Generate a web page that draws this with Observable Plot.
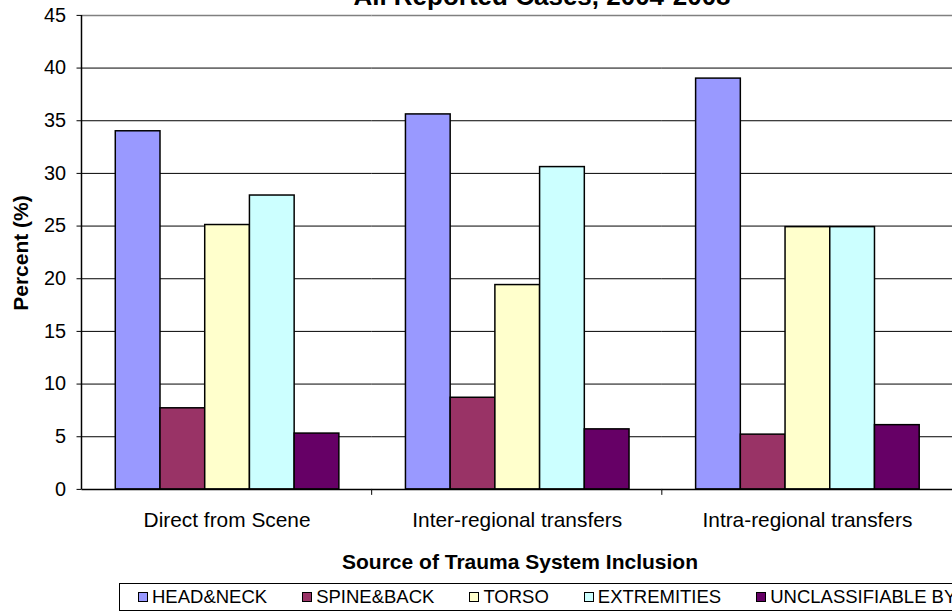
<!DOCTYPE html>
<html><head><meta charset="utf-8">
<script src="https://cdn.jsdelivr.net/npm/d3@7"></script>
<script src="https://cdn.jsdelivr.net/npm/@observablehq/plot@0.6"></script>
<style>
html,body{margin:0;padding:0;background:#fff;overflow:hidden;}
#wrap{position:relative;width:952px;height:614px;overflow:hidden;font-family:"Liberation Sans",Arial,sans-serif;color:#000;}
#chart{position:absolute;left:0;top:0;}
#title{position:absolute;left:0;width:1084px;top:-17px;text-align:center;font-weight:bold;font-size:26px;line-height:26px;white-space:nowrap;}
#ytitle{position:absolute;left:20px;top:253px;transform:translate(-50%,-50%) rotate(-90deg);font-weight:bold;font-size:21px;line-height:21px;white-space:nowrap;}
#xtitle{position:absolute;left:82px;width:876px;top:551px;text-align:center;font-weight:bold;font-size:21px;line-height:21px;white-space:nowrap;}
#legend{position:absolute;left:119px;top:583px;height:28px;width:900px;border:1px solid #000;border-right:none;display:flex;align-items:center;padding-left:18px;box-sizing:border-box;font-size:18.5px;white-space:nowrap;}
#legend .item{display:flex;align-items:center;margin-right:35px;}
#legend .sw{width:8px;height:8px;border:1.5px solid #000;margin-right:4px;}
</style>
</head><body>
<div id="wrap">
  <div id="chart"></div>
  <div id="title"></div>
  <div id="ytitle"></div>
  <div id="xtitle"></div>
  <div id="legend"></div>
</div>
<script>
const titleText = "All Reported Cases, 2004-2008";
const yTitle = "Percent (%)";
const xTitle = "Source of Trauma System Inclusion";
const categories = ["Direct from Scene", "Inter-regional transfers", "Intra-regional transfers"];
const seriesNames = ["HEAD&NECK", "SPINE&BACK", "TORSO", "EXTREMITIES", "UNCLASSIFIABLE BY"];
const colors = ["#9999FF", "#993366", "#FFFFCC", "#CCFFFF", "#660066"];
const headNeck = [34.0, 35.6, 39.0];
const spineBack = [7.7, 8.7, 5.2];
const torso = [25.1, 19.4, 24.9];
const extremities = [27.9, 30.6, 24.9];
const unclassifiable = [5.3, 5.7, 6.1];
const yTicks = [0, 5, 10, 15, 20, 25, 30, 35, 40, 45];

const seriesValues = [headNeck, spineBack, torso, extremities, unclassifiable];
const rows = [];
categories.forEach((cat, i) => {
  seriesNames.forEach((s, j) => rows.push({cat, series: s, value: seriesValues[j][i]}));
});

const plot = Plot.plot({
  width: 958, height: 614,
  marginLeft: 82, marginRight: 0, marginTop: 15, marginBottom: 122,
  style: {fontFamily: '"Liberation Sans", Arial, sans-serif', fontSize: "20px", background: "transparent", color: "#000", overflow: "visible"},
  fx: {domain: categories, padding: 0, label: null},
  x: {domain: seriesNames, paddingInner: 0, paddingOuter: 0.744, axis: null},
  y: {domain: [0, 45]},
  color: {domain: seriesNames, range: colors},
  marks: [
    Plot.gridY(yTicks.filter(d => d > 0 && d < 45), {stroke: "#000", strokeOpacity: 1, strokeWidth: 1}),
    Plot.ruleY([45], {stroke: "#808080", strokeWidth: 1.5}),
    Plot.barY(rows, {fx: "cat", x: "series", y: "value", fill: "series", stroke: "#000", strokeWidth: 1.5, inset: 0}),
    Plot.ruleY([0], {stroke: "#000", strokeWidth: 1.5}),
    Plot.axisY(yTicks, {tickSize: 5, tickPadding: 11, fontSize: 20, label: null}),
    Plot.axisFx({anchor: "bottom", tickSize: 0, tickPadding: 23, fontSize: 21, label: null})
  ]
});

// axis line and category boundary ticks from Plot's own scales
const fx = plot.scale("fx"), y = plot.scale("y");
const svg = d3.select(plot);
const x0 = fx.apply(categories[0]);
svg.append("line").attr("x1", x0).attr("x2", x0).attr("y1", y.apply(45)).attr("y2", y.apply(0))
  .attr("stroke", "#000").attr("stroke-width", 1.5);
categories.forEach((c, i) => {
  if (i > 0) {
    const xx = fx.apply(c);
    svg.append("line").attr("x1", xx).attr("x2", xx).attr("y1", y.apply(0)).attr("y2", y.apply(0) + 6)
      .attr("stroke", "#000").attr("stroke-width", 1);
  }
});

document.getElementById("chart").appendChild(plot);
document.getElementById("title").textContent = titleText;
document.getElementById("ytitle").textContent = yTitle;
document.getElementById("xtitle").textContent = xTitle;
const legend = document.getElementById("legend");
seriesNames.forEach((s, j) => {
  const it = document.createElement("div"); it.className = "item";
  const sw = document.createElement("div"); sw.className = "sw"; sw.style.background = colors[j];
  const tx = document.createElement("span"); tx.textContent = s;
  it.appendChild(sw); it.appendChild(tx); legend.appendChild(it);
});
</script>
</body></html>
